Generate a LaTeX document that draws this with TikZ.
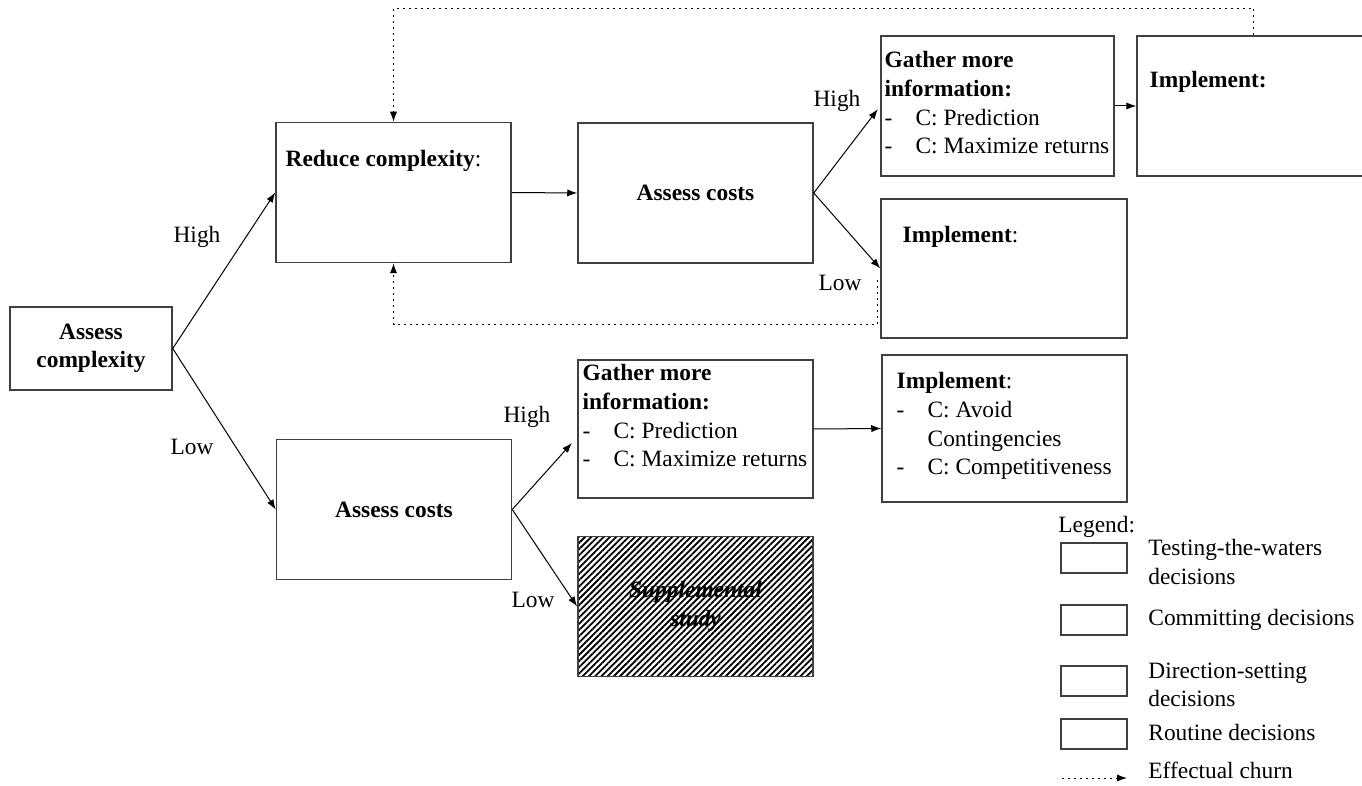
\documentclass[tikz,border=0pt]{standalone}
\usepackage{fontspec}
\setmainfont{Liberation Serif}
\usepackage{tikz}
\usetikzlibrary{positioning,arrows.meta,patterns.meta}

\newcommand{\boxfont}{\fontsize{11.7pt}{14.3pt}\selectfont}
\newcommand{\itm}[1]{\makebox[15.5pt][l]{-}#1}

\begin{document}
\begin{tikzpicture}[x=0.5pt, y=-0.5pt, every node/.style={font=\boxfont},
  >={Latex[length=5pt,width=3.6pt]},
  box/.style={draw=black!75, line width=0.75pt, minimum width=117.5pt,
    minimum height=70pt, inner sep=0pt},
  boxtext/.style={inner sep=0pt, align=left, anchor=north west},
  lab/.style={inner sep=0pt},
  legbox/.style={draw=black!75, line width=0.75pt, minimum width=33pt,
    minimum height=15pt, inner sep=0pt},
  legtext/.style={inner sep=0pt, align=left, anchor=west},
  conn/.style={line width=0.5pt},
  churn/.style={line width=0.5pt, dash pattern=on 1pt off 2pt}]
  \useasboundingbox (0,0) rectangle (1362,786);
  \clip (0,0) rectangle (1362,786);

  % decision boxes
  \node[box, minimum width=81pt, minimum height=41.5pt, align=center]
      (cplx)    at (91,348.5)   {\textbf{Assess}\\\textbf{complexity}};
  \node[box]                                 (reduce)  at (393.5,192.5) {};
  \node[box]                                 (costA)   at (695.5,193)   {\textbf{Assess costs}};
  \node[box, minimum width=116.5pt]          (gatherA) at (997.5,106)   {};
  \node[box, minimum width=116.5pt]          (implB)   at (1253.5,106)  {};
  \node[box, minimum width=123pt, minimum height=69.5pt]
      (implA)   at (1004,268.5)  {};
  \node[box]                                 (costB)   at (394,509.5)   {\textbf{Assess costs}};
  \node[box, minimum height=69pt]            (gatherB) at (695.5,429)   {};
  \node[box, minimum width=122.5pt, minimum height=73.5pt]
      (implC)   at (1004.5,428.5) {};
  \node[box, pattern={Lines[angle=45,distance=2.2pt,line width=0.9pt]},
      align=center, font=\boxfont\bfseries\itshape]
      (supp)    at (695.5,606.5) {Supplemental\\study};

  % box contents
  \node[boxtext, below right=14pt and 5pt of reduce.north west]
      (reduceTxt)  {\textbf{Reduce complexity}:};
  \node[boxtext, below right=8pt and 2pt of gatherA.north west]
      (gatherATxt) {\textbf{Gather more}\\\textbf{information:}\\
                    \itm{C: Prediction}\\\itm{C: Maximize returns}};
  \node[boxtext, below right=18pt and 6.5pt of implB.north west]
      (implBTxt)   {\textbf{Implement:}};
  \node[boxtext, below right=14pt and 11pt of implA.north west]
      (implATxt)   {\textbf{Implement}:};
  \node[boxtext, below right=2.5pt and 2.5pt of gatherB.north west]
      (gatherBTxt) {\textbf{Gather more}\\\textbf{information:}\\
                    \itm{C: Prediction}\\\itm{C: Maximize returns}};
  \node[boxtext, below right=9pt and 7.5pt of implC.north west]
      (implCTxt)   {\textbf{Implement}:\\\itm{C: Avoid}\\
                    \hspace*{15.5pt}Contingencies\\\itm{C: Competitiveness}};

  % branch labels
  \node[lab] (hiA)  at (197,237) {High};
  \node[lab] (loA)  at (192,447) {Low};
  \node[lab] (hiB)  at (837,101) {High};
  \node[lab] (loB)  at (840,283) {Low};
  \node[lab] (hiC)  at (527,417) {High};
  \node[lab] (loC)  at (533,600) {Low};

  % connectors
  \draw[conn,->] (cplx.east)  -- (reduce.west);
  \draw[conn,->] (cplx.east)  -- (costB.west);
  \draw[conn,->] (reduce.east) -- (costA.west);
  \draw[conn,->,shorten >=2pt] (costA.east) -- (gatherA.west);
  \draw[conn,->] (costA.east) -- (implA.west);
  \draw[conn,->] (gatherA.east) -- (implB.west);
  \draw[conn,->,shorten >=4pt] (costB.east) -- ([yshift=-4pt]gatherB.west);
  \draw[conn,->] (costB.east) -- (supp.west);
  \draw[conn,->] (gatherB.east) -- (implC.west);

  % effectual churn loops
  \coordinate (churnA) at (877,280);
  \draw[churn,->] (implB.north) -- ++(0,-27) -| (reduce.north);
  \draw[churn,->] (churnA) -- ++(0,45) -| (reduce.south);

  % legend
  \node[lab, anchor=west] (legTitle) at (1058,527) {Legend:};
  \node[legbox] (legA) at (1094,558) {};
  \node[legbox] (legB) at (1094,620) {};
  \node[legbox] (legC) at (1094,681) {};
  \node[legbox] (legD) at (1094,734) {};
  \node[legtext] (legTxtA) at (1148,562) {Testing-the-waters\\decisions};
  \node[legtext] (legTxtB) at (1148,620) {Committing decisions};
  \node[legtext] (legTxtC) at (1148,685) {Direction-setting\\decisions};
  \node[legtext] (legTxtD) at (1148,732) {Routine decisions};
  \coordinate (churnL) at (1062,778);
  \coordinate (churnR) at (1127,778);
  \draw[churn,->] (churnL) -- (churnR);
  \node[legtext] (legTxtE) at (1148,770) {Effectual churn};
\end{tikzpicture}
\end{document}
